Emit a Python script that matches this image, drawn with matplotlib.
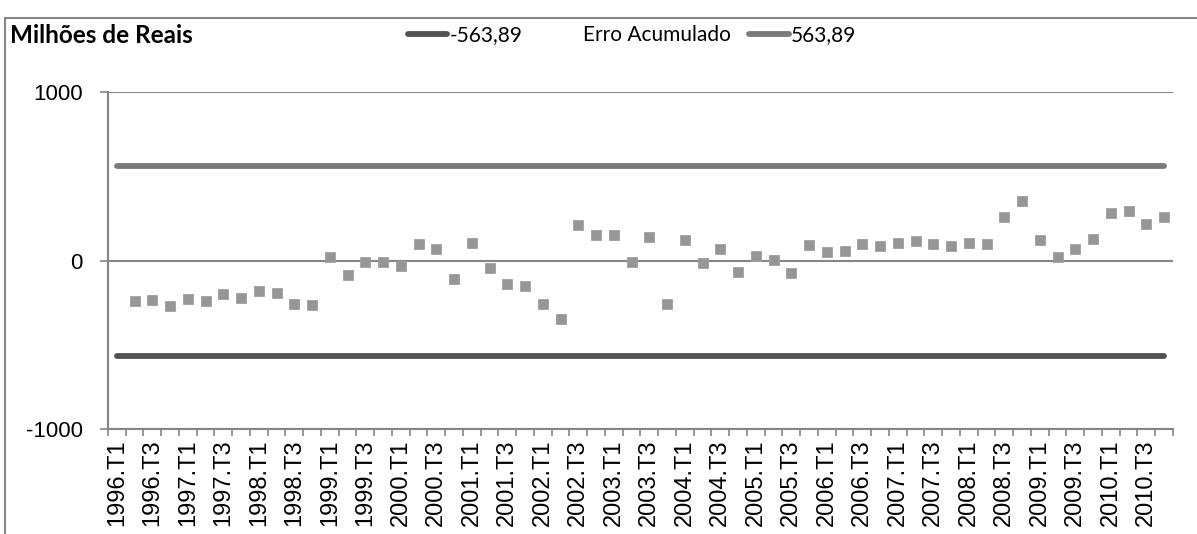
import numpy as np
import matplotlib
matplotlib.use("Agg")
import matplotlib.pyplot as plt
from matplotlib.lines import Line2D
from matplotlib.patches import Rectangle

# Trimestres 1996.T1 .. 2010.T4
anos = list(range(1996, 2011))
trimestres = [f"{a}.T{t}" for a in anos for t in range(1, 5)]

# Erro acumulado (milhões de reais); 1996.T1 sem valor
erro_acumulado = [
    np.nan, -235, -230, -267, -224, -240, -196, -220, -180, -188,
    -253, -259, 22, -81, -8, -8, -32, 103, 71, -109,
    107, -40, -137, -146, -253, -346, 212, 152, 152, -6,
    144, -253, 127, -14, 73, -67, 28, 8, -71, 93,
    51, 59, 103, 87, 105, 121, 99, 91, 107, 101,
    263, 356, 127, 26, 73, 129, 285, 295, 220, 259,
]
limite = 563.89

x = np.arange(len(trimestres))
cinza = "#868686"

fig = plt.figure(figsize=(11.97, 5.34), dpi=100)
ax = fig.add_axes([0.0902, 0.1957, 0.8897, 0.6311])

inferior, = ax.plot(x, [-limite] * len(x), color="#525252", lw=4.2,
                    solid_capstyle="round", zorder=3)
ax.plot(x, erro_acumulado, linestyle="none", marker="s", ms=7.2,
        color="#969696", markeredgecolor="#a0a0a0", markeredgewidth=0.6, zorder=4)
superior, = ax.plot(x, [limite] * len(x), color="#7a7a7a", lw=4.2,
                    solid_capstyle="round", zorder=3)

ax.set_xlim(-0.5, len(x) - 0.5)
ax.set_ylim(-1000, 1000)
ax.set_yticks([-1000, 0, 1000])
ax.set_yticklabels(["-1000", "0", "1000"], fontfamily="Liberation Sans", fontsize=16)
ax.set_xticks(x[::2])
ax.set_xticklabels(trimestres[::2], rotation=90, fontfamily="Liberation Sans",
                   fontsize=17, va="top")
ax.set_xticks(np.arange(-0.5, len(x)), minor=True)
ax.tick_params(axis="x", which="major", length=0, pad=7)
ax.tick_params(axis="x", which="minor", length=5, width=1.2, color=cinza, direction="out")
ax.tick_params(axis="y", length=6, width=1.2, color=cinza, pad=12)

ax.yaxis.grid(True, color=cinza, lw=1.5)
ax.set_axisbelow(True)
for lado in ("top", "right"):
    ax.spines[lado].set_visible(False)
for lado in ("left", "bottom"):
    ax.spines[lado].set_color(cinza)
    ax.spines[lado].set_linewidth(1.5)

fig.text(0.008, 0.934, "Milhões de Reais", fontfamily="Lato", fontweight="bold",
         fontsize=17.5, va="center", ha="left")

vazio = Line2D([], [], linestyle="none")
fig.legend([inferior, vazio, superior], ["-563,89", "Erro Acumulado", "563,89"],
           loc="center", bbox_to_anchor=(0.528, 0.934), ncol=3, frameon=False,
           prop={"family": "Lato", "size": 15}, handlelength=1.9,
           handletextpad=0.1, columnspacing=0.9)

fig.patches.append(Rectangle((0.0045, -0.05), 1.2, 0.034 + 0.983, fill=False,
                             edgecolor=cinza, lw=1.5, transform=fig.transFigure))

fig.savefig("out.png", dpi=100)
